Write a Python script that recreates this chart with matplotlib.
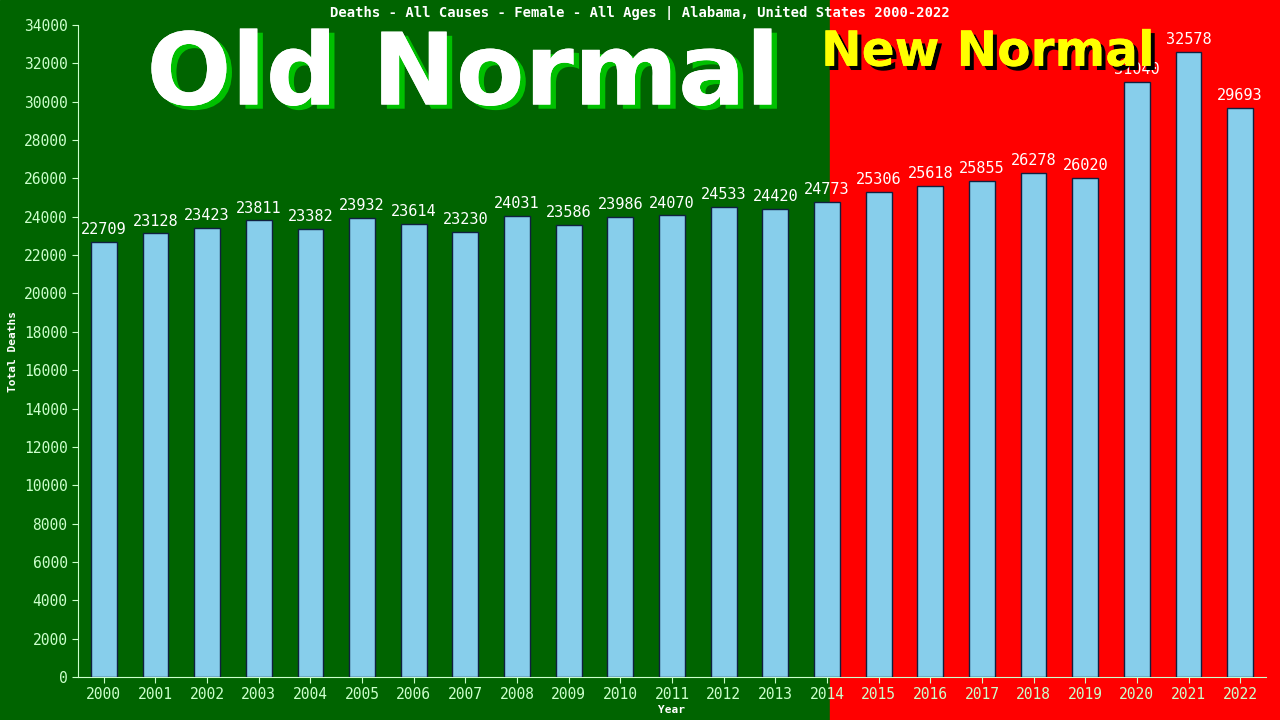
import matplotlib
matplotlib.use("Agg")
import matplotlib.pyplot as plt
import matplotlib.patheffects as pe
from matplotlib.patches import Rectangle

years = list(range(2000, 2023))
deaths = [22709, 23128, 23423, 23811, 23382, 23932, 23614, 23230, 24031, 23586, 23986,
          24070, 24533, 24420, 24773, 25306, 25618, 25855, 26278, 26020, 31040, 32578, 29693]
title = "Deaths - All Causes - Female - All Ages | Alabama, United States 2000-2022"

fig = plt.figure(figsize=(12.8, 7.2), dpi=100)
fig.patches.append(Rectangle((0, 0), 830/1280, 1, transform=fig.transFigure, color="#006400", zorder=-10))
fig.patches.append(Rectangle((830/1280, 0), 1 - 830/1280, 1, transform=fig.transFigure, color="#ff0000", zorder=-10))
ax = fig.add_axes([78/1280, 43/720, (1266-78)/1280, (677-25)/720])
ax.set_facecolor("none")
mono = "DejaVu Sans Mono"
x = list(range(len(years)))
ax.bar(x, deaths, width=0.5, color="#87ceeb", edgecolor="#102040", linewidth=1, zorder=3)
for xi, v in zip(x, deaths):
    ax.text(xi, v + 250, str(v), ha="center", va="bottom", color="white", fontsize=11, family=mono, zorder=4)
ax.set_xlim(-0.5, 22.5)
ax.set_ylim(0, 34000)
ax.set_xticks(x)
ax.set_xticklabels([str(y) for y in years], color="white", fontsize=10.5, family=mono)
ax.set_yticks(range(0, 34001, 2000))
ax.set_yticklabels([str(v) for v in range(0, 34001, 2000)], color="white", fontsize=10.5, family=mono)
for s in ["left", "bottom"]:
    ax.spines[s].set_color("#ccffcc")
for s in ["top", "right"]:
    ax.spines[s].set_visible(False)
ax.tick_params(colors="#ccffcc", length=4)
ax.set_xlabel("Year", color="white", fontsize=8, family=mono, fontweight="bold", labelpad=2)
ax.set_ylabel("Total Deaths", color="white", fontsize=8, family=mono, fontweight="bold")
fig.text(0.5, 0.982, title, ha="center", va="center", color="white", fontsize=10, family=mono, fontweight="bold")
fig.text(463/1280, 0.893, "Old Normal", ha="center", va="center", color="white", fontsize=72,
         fontweight="bold", family="DejaVu Sans",
         path_effects=[pe.withSimplePatchShadow(offset=(4, -3), shadow_rgbFace="#00c000", alpha=1), pe.Normal()])
fig.text(988/1280, 0.928, "New Normal", ha="center", va="center", color="#ffff00", fontsize=35,
         fontweight="bold", family="DejaVu Sans",
         path_effects=[pe.withSimplePatchShadow(offset=(3, -3), shadow_rgbFace="black", alpha=1), pe.Normal()])
fig.savefig("out.png", dpi=100)
